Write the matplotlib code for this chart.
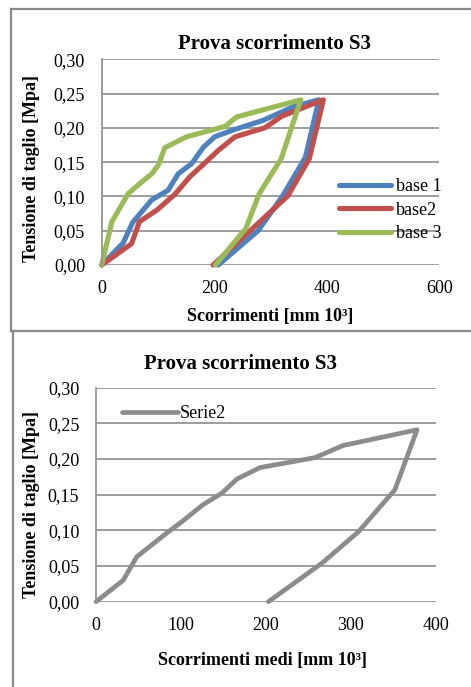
import matplotlib
matplotlib.use("Agg")
import matplotlib.pyplot as plt
from matplotlib.ticker import FuncFormatter
from matplotlib.lines import Line2D

plt.rcParams['font.family'] = ['Liberation Serif', 'DejaVu Serif']

# data
base1_x = [0, 38, 55, 89, 118, 136, 160, 181, 201, 234, 287, 341, 386, 362, 321, 278, 207]
base1_y = [0, 0.032, 0.062, 0.095, 0.109, 0.133, 0.148, 0.172, 0.187, 0.197, 0.211, 0.231, 0.241,
           0.157, 0.100, 0.050, 0]
base2_x = [0, 53, 67, 98, 130, 157, 181, 207, 237, 290, 320, 394, 369, 331, 281, 198]
base2_y = [0, 0.031, 0.063, 0.080, 0.103, 0.129, 0.147, 0.167, 0.187, 0.200, 0.217, 0.241,
           0.155, 0.101, 0.063, 0]
base3_x = [0, 18, 47, 68, 89, 101, 112, 151, 219, 240, 354, 319, 280, 256, 202]
base3_y = [0, 0.063, 0.104, 0.119, 0.133, 0.146, 0.171, 0.187, 0.202, 0.216, 0.241,
           0.155, 0.104, 0.053, 0]
serie2_x = [0, 32, 48, 83, 101, 126, 148, 166, 193, 258, 291, 378, 352, 309, 266, 203]
serie2_y = [0, 0.030, 0.063, 0.096, 0.112, 0.136, 0.152, 0.172, 0.188, 0.202, 0.219, 0.241,
            0.157, 0.098, 0.054, 0]

y_ticks = [0, 0.05, 0.10, 0.15, 0.20, 0.25, 0.30]
top_x_ticks = [0, 200, 400, 600]
bot_x_ticks = [0, 100, 200, 300, 400]

W, H = 471, 687
GRID = '#959595'


def fx(px):
    return px / W


def fy(py):
    return 1 - py / H


def style_axes(ax, xticks, xmax):
    ax.set_xlim(0, xmax)
    ax.set_ylim(0, 0.30)
    ax.set_xticks(xticks)
    ax.set_yticks(y_ticks)
    ax.yaxis.set_major_formatter(FuncFormatter(lambda v, p: f"{v:.2f}".replace('.', ',')))
    ax.grid(axis='y', color=GRID, linewidth=1.3)
    ax.set_axisbelow(True)
    for s in ['top', 'right', 'bottom']:
        ax.spines[s].set_visible(False)
    ax.spines['left'].set_color(GRID)
    ax.spines['left'].set_linewidth(1.3)
    ax.tick_params(length=0, labelsize=13)
    ax.tick_params(axis='y', pad=12)
    ax.tick_params(axis='x', pad=11)


fig = plt.figure(figsize=(4.71, 6.87), dpi=100)

# chart borders
fig.add_artist(Line2D([fx(11), fx(11)], [fy(9), fy(331)], color='#8a8a8a', lw=1.6))
fig.add_artist(Line2D([fx(11), 1], [fy(9), fy(9)], color='#8a8a8a', lw=1.6))
fig.add_artist(Line2D([fx(11), 1], [fy(331), fy(331)], color='#8a8a8a', lw=1.6))
fig.add_artist(Line2D([fx(13), fx(13)], [fy(331), 0], color='#8a8a8a', lw=1.6))

# top chart
ax1 = fig.add_axes([fx(101.7), fy(265), fx(439.3 - 101.7), (265 - 59.3) / H])
style_axes(ax1, top_x_ticks, 600)
kw = dict(lw=3.7, solid_capstyle='round', solid_joinstyle='round', clip_on=False)
ax1.plot(base1_x, base1_y, color='#4F81BD', label='base 1', **kw)
ax1.plot(base2_x, base2_y, color='#C0504D', label='base2', **kw)
ax1.plot(base3_x, base3_y, color='#9BBB59', label='base 3', **kw)
ax1.legend(loc='upper left', bbox_to_anchor=(fx(339), fy(178)), bbox_transform=fig.transFigure,
           frameon=False, fontsize=13, handlelength=2.9, handletextpad=0.25,
           labelspacing=0.37, borderpad=0, borderaxespad=0)

fig.text(fx(274), fy(49), 'Prova scorrimento S3', ha='center', va='baseline',
         fontsize=15, fontweight='bold')
fig.text(fx(32), fy(168), 'Tensione di taglio [Mpa]', ha='center', va='center',
         rotation=90, fontsize=13, fontweight='bold')
fig.text(fx(270), fy(316), 'Scorrimenti [mm 10³]', ha='center', va='center',
         fontsize=13, fontweight='bold')

# bottom chart
ax2 = fig.add_axes([fx(96), fy(601.7), fx(435.7 - 96), (601.7 - 387.7) / H])
style_axes(ax2, bot_x_ticks, 400)
ax2.plot(serie2_x, serie2_y, color='#8C8C8C', label='Serie2', lw=3.4,
         solid_capstyle='round', solid_joinstyle='round', clip_on=False)
ax2.legend(loc='upper left', bbox_to_anchor=(fx(122), fy(405)), bbox_transform=fig.transFigure,
           frameon=False, fontsize=13, handlelength=3.1, handletextpad=0.1,
           borderpad=0, borderaxespad=0)

fig.text(fx(240), fy(369), 'Prova scorrimento S3', ha='center', va='baseline',
         fontsize=15, fontweight='bold')
fig.text(fx(32), fy(504), 'Tensione di taglio [Mpa]', ha='center', va='center',
         rotation=90, fontsize=13, fontweight='bold')
fig.text(fx(262), fy(661), 'Scorrimenti medi [mm 10³]', ha='center', va='center',
         fontsize=13, fontweight='bold')

fig.savefig('out.png', dpi=100)
